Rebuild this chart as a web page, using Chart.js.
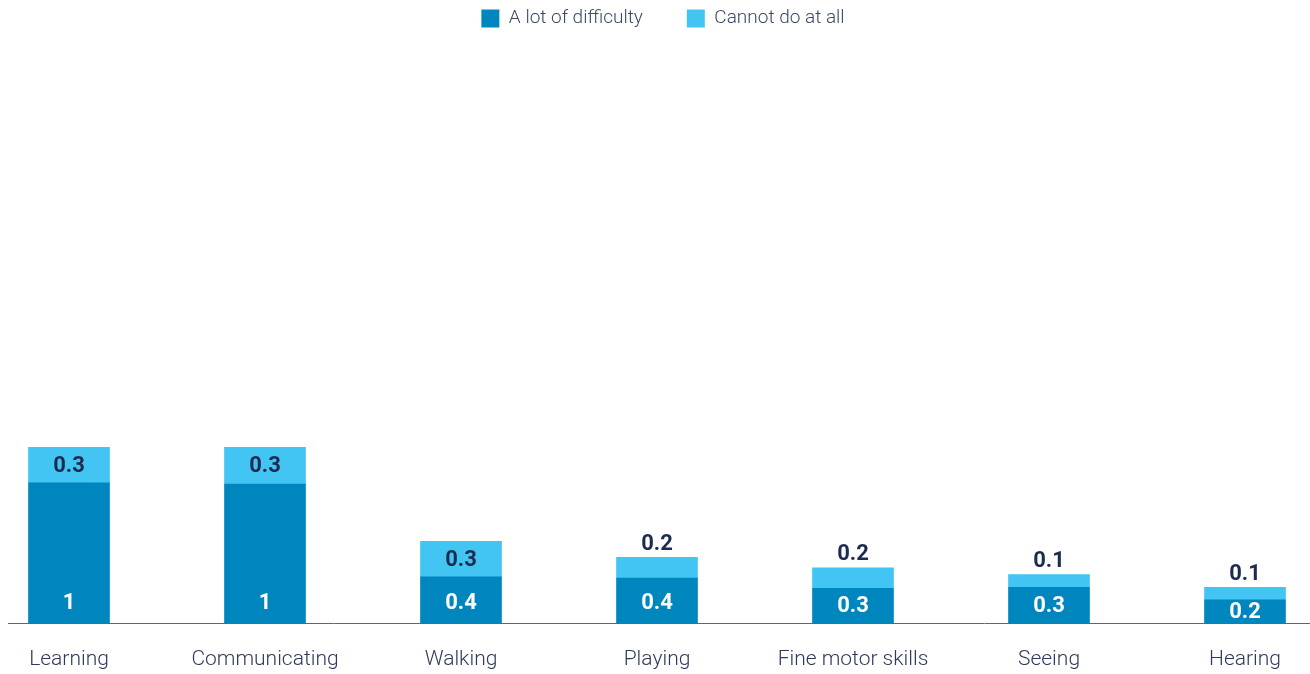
<!DOCTYPE html>
<html>
<head>
<meta charset="utf-8">
<script src="https://cdn.jsdelivr.net/npm/chart.js@4/dist/chart.umd.min.js"></script>
<style>
  html, body { margin: 0; padding: 0; background: #fff; }
  #wrap { width: 1310px; height: 674px; position: relative; }
</style>
</head>
<body>
<div id="wrap"><canvas id="chart"></canvas></div>
<script>
// categories and values
const categories = ['Learning', 'Communicating', 'Walking', 'Playing', 'Fine motor skills', 'Seeing', 'Hearing'];
const aLotOfDifficulty = [1.22, 1.21, 0.40, 0.39, 0.30, 0.31, 0.20];
const cannotDoAtAll = [0.31, 0.32, 0.31, 0.18, 0.18, 0.11, 0.11];
const seriesNames = ['A lot of difficulty', 'Cannot do at all'];

const DARK = '#0086bf';
const LIGHT = '#42c5f2';
const NAVY = '#1c2b4f';

function fmt(v){
  return String(Number(v.toPrecision(1)));
}

// value labels drawn on the bars
const valueLabels = {
  id: 'valueLabels',
  afterDatasetsDraw(chart){
    const ctx = chart.ctx;
    ctx.save();
    ctx.font = 'bold 22px Roboto';
    ctx.textAlign = 'center';
    ctx.textBaseline = 'middle';
    chart.data.datasets.forEach((ds, di) => {
      const meta = chart.getDatasetMeta(di);
      meta.data.forEach((bar, i) => {
        const p = bar.getProps(['x', 'y', 'base'], true);
        const mid = (p.y + p.base) / 2;
        let y;
        if(di === 0){
          y = Math.max(mid, p.base - 20);
          ctx.fillStyle = '#ffffff';
        } else {
          y = (p.base - p.y) >= 30 ? mid : p.y - 14;
          ctx.fillStyle = NAVY;
        }
        ctx.fillText(fmt(ds.data[i]), p.x, y + 1);
      });
    });
    ctx.restore();
  }
};

// baseline running the full width
const baseLine = {
  id: 'baseLine',
  afterLayout(chart){
    // nudge the legend a little to the right
    chart.legend.left += 6;
    chart.legend.right += 6;
  },
  afterDatasetsDraw(chart){
    const ctx = chart.ctx;
    const y = Math.round(chart.chartArea.bottom) + 0.5;
    ctx.save();
    ctx.strokeStyle = '#5c6580';
    ctx.lineWidth = 1;
    ctx.beginPath();
    ctx.moveTo(8, y);
    ctx.lineTo(chart.width, y);
    ctx.stroke();
    ctx.restore();
  }
};

new Chart(document.getElementById('chart'), {
  type: 'bar',
  data: {
    labels: categories,
    datasets: [
      { label: seriesNames[0], data: aLotOfDifficulty, backgroundColor: DARK, barThickness: 81, clip: false },
      { label: seriesNames[1], data: cannotDoAtAll, backgroundColor: LIGHT, barThickness: 81, clip: false }
    ]
  },
  options: {
    responsive: true,
    maintainAspectRatio: false,
    animation: false,
    layout: { padding: { top: -35, left: 69, right: 65, bottom: -22 } },
    plugins: {
      legend: {
        position: 'top',
        labels: {
          boxWidth: 18, boxHeight: 18, padding: 44,
          color: '#3b4868',
          font: { family: 'Roboto', size: 19, weight: 300 }
        }
      },
      tooltip: { enabled: false }
    },
    scales: {
      x: {
        stacked: true,
        offset: false,
        grid: { display: false, drawTicks: false },
        border: { display: false },
        ticks: {
          padding: 24,
          color: '#2e3a5c',
          font: { family: 'Roboto', size: 21, weight: 300 },
          maxRotation: 0, autoSkip: false
        }
      },
      y: {
        stacked: true,
        display: false,
        min: 0,
        max: 5.1
      }
    }
  },
  plugins: [valueLabels, baseLine]
});
</script>
</body>
</html>
